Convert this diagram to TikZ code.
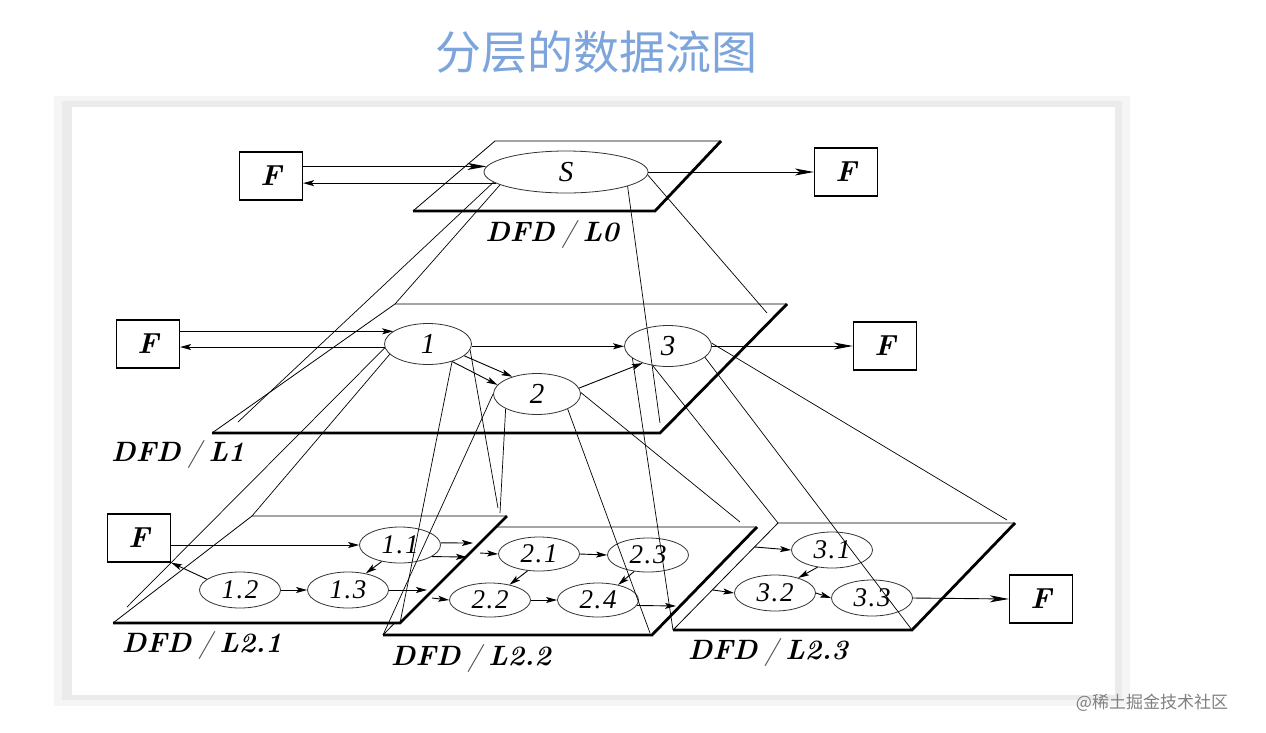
\documentclass[tikz,border=0pt]{standalone}
\usepackage{fontspec}
\usepackage{tikz}
\usetikzlibrary{arrows.meta,shapes.geometric}
\newfontfamily\cjk{Noto Sans CJK SC}
\newfontfamily\procfont[LetterSpace=6]{Liberation Serif}
\definecolor{titleblue}{RGB}{125,165,220}
\newcommand{\dfdslash}{\hspace{0.25em}{\mdseries\color{black!70}/}\hspace{0.25em}}
\newcommand{\dfdplane}[1]{%
  \fill[white] (#1bl) -- (#1br) -- (#1tr) -- (#1tl) -- cycle;
  \draw[thinedge] (#1bl) -- (#1tl) -- (#1tr);
  \draw[thickedge] (#1tr) -- (#1br) -- (#1bl);}

\begin{document}
\begin{tikzpicture}[x=1pt,y=-1pt,
  proc/.style={draw=black!80,line width=0.8pt,ellipse,inner sep=0pt,
    minimum width=81pt,minimum height=36pt,font=\procfont\fontsize{27}{28}\selectfont\itshape},
  bigproc/.style={proc,minimum width=87pt,minimum height=41pt,
    font=\procfont\fontsize{29}{30}\selectfont\itshape},
  ext/.style={draw,line width=1.2pt,minimum width=63pt,minimum height=48pt,
    inner sep=0pt,font=\fontsize{29}{30}\selectfont\bfseries\itshape},
  flow/.style={line width=0.9pt,-{Stealth[length=11pt,width=6pt,inset=2.5pt]}},
  longflow/.style={line width=0.9pt,-{Stealth[length=19pt,width=7pt,inset=5pt]}},
  proj/.style={line width=0.7pt},
  lvl/.style={font=\fontsize{28}{30}\selectfont\bfseries\itshape},
  thinedge/.style={line width=0.8pt},
  thickedge/.style={line width=2.8pt,line join=miter}]
  \useasboundingbox (0,0) rectangle (1266,732);
  \fill[white] (0,0) rectangle (1266,732);
  \fill[black!4] (54,96) rectangle (1130,706);
  \fill[black!8] (62,101) rectangle (1122,700);
  \fill[white] (72,107) rectangle (1115,695);

  \node[font=\cjk\fontsize{46}{50}\selectfont,text=titleblue] (title) at (596,52) {分层的数据流图};

  % planes
  \coordinate (L0bl) at (413,211); \coordinate (L0br) at (655,211);
  \coordinate (L0tr) at (721,141); \coordinate (L0tl) at (495,141);
  \coordinate (L1bl) at (212,433); \coordinate (L1br) at (660,433);
  \coordinate (L1tr) at (787,304); \coordinate (L1tl) at (395,304);
  \coordinate (L21bl) at (113,623); \coordinate (L21br) at (400,623);
  \coordinate (L21tr) at (507,516); \coordinate (L21tl) at (252,516);
  \coordinate (L22bl) at (383,635); \coordinate (L22br) at (652,635);
  \coordinate (L22tr) at (757,527); \coordinate (L22tl) at (488,527);
  \coordinate (L23bl) at (673,630); \coordinate (L23br) at (912,630);
  \coordinate (L23tr) at (1015,523); \coordinate (L23tl) at (778,523);
  \dfdplane{L0}
  \dfdplane{L1}
  \dfdplane{L23}
  \dfdplane{L22}
  \dfdplane{L21}

  % DFD/L0
  \node[ext] (fa) at (271,176) {F};
  \node[bigproc,minimum width=164pt,minimum height=42pt] (s) at (566,172) {S};
  \node[ext] (fb) at (846,172) {F};
  \draw[longflow] (fa.east |- s.176) -- (s.176);
  \draw[flow] (s.189) -- (s.189 -| fa.east);
  \draw[longflow] (s.east) -- (fb.west);

  % DFD/L1
  \node[ext] (f1) at (148,344) {F};
  \node[bigproc] (p1) at (428,344) {1};
  \node[bigproc] (p2) at (537,394) {2};
  \node[bigproc] (p3) at (668,346) {3};
  \node[ext] (f3) at (885,346) {F};
  \draw[flow] (f1.east |- p1.160) -- (p1.160);
  \draw[flow] (p1.184) -- (p1.184 -| f1.east);
  \draw[flow] (p1.357) -- (p1.357 -| p3.west);
  \draw[flow] (p1.342) -- (p2.145);
  \draw[flow] (p1.324) -- (p2.167);
  \draw[flow] (p2.8) -- (p3.214);
  \draw[longflow] (p3.east) -- (f3.west);

  % DFD/L2.1
  \node[ext] (f21) at (139,538) {F};
  \node[proc] (p11) at (400,545) {1.1};
  \node[proc] (p12) at (240,590) {1.2};
  \node[proc] (p13) at (348,590) {1.3};
  \coordinate (o11a) at (473,543);
  \coordinate (o11b) at (467,557);
  \coordinate (o13) at (427,590);
  \draw[flow] (f21.east |- p11.west) -- (p11.west);
  \draw[flow] (p12.162) -- (f21.south east);
  \draw[flow] (p12.east) -- (p13.west);
  \draw[flow] (p11.222) -- (p13.43);
  \draw[flow] (p11.3) -- (o11a);
  \draw[flow] (p11.340) -- (o11b);
  \draw[flow] (p13.east) -- (o13);

  % DFD/L2.2
  \node[proc,minimum height=34pt] (p21) at (539,554) {2.1};
  \node[proc,minimum height=34pt] (p23) at (648,555) {2.3};
  \node[proc,minimum height=34pt] (p22) at (490,600) {2.2};
  \node[proc,minimum height=34pt] (p24) at (598,600) {2.4};
  \coordinate (i21) at (480,553);
  \coordinate (i22) at (432,598);
  \coordinate (o24) at (676,606);
  \draw[flow] (i21) -- (p21.west);
  \draw[flow] (i22) -- (p22.west);
  \draw[flow] (p21.east) -- (p23.west);
  \draw[flow] (p21.236) -- (p22.38);
  \draw[flow] (p23.230) -- (p24.37);
  \draw[flow] (p22.east) -- (p24.west);
  \draw[flow] (p24.352) -- (o24);

  % DFD/L2.3
  \node[proc] (p31) at (832,550) {3.1};
  \node[proc] (p32) at (775,593) {3.2};
  \node[proc] (p33) at (872,598) {3.3};
  \node[ext] (f23) at (1041,599) {F};
  \coordinate (i31) at (755,547);
  \coordinate (i32) at (713,590);
  \draw[flow] (i31) -- (p31.west);
  \draw[flow] (i32) -- (p32.west);
  \draw[flow] (p31.230) -- (p32.33);
  \draw[flow] (p32.east) -- (p33.west);
  \draw[longflow] (p33.east) -- (f23.west);

  % projections
  \coordinate (s-a) at (238,422);
  \coordinate (s-c) at (767,313);
  \coordinate (s-d) at (660,423);
  \coordinate (p1-a) at (127,607);
  \coordinate (p1-c) at (498,508);
  \coordinate (p2-b) at (500,513);
  \coordinate (p2-c) at (650,633);
  \coordinate (p2-d) at (740,522);
  \coordinate (p3-d) at (1007,520);
  \draw[proj] (s.188) -- (s-a);
  \draw[proj] (s.191) -- (L1tl);
  \draw[proj] (s.358) -- (s-c);
  \draw[proj] (s.347) -- (s-d);
  \draw[proj] (p1.185) -- (p1-a);
  \draw[proj] (p1.195) -- (L21tl);
  \draw[proj] (p1.352) -- (p1-c);
  \draw[proj] (p1.324) -- (L21br);
  \draw[proj] (p2.180) -- (L22bl);
  \draw[proj] (p2.205) -- (p2-b);
  \draw[proj] (p2.334) -- (p2-c);
  \draw[proj] (p2.2) -- (p2-d);
  \draw[proj] (p3.199) -- (L23bl);
  \draw[proj] (p3.232) -- (L23tl);
  \draw[proj] (p3.343) -- (L23br);
  \draw[proj] (p3.4) -- (p3-d);

  \node[lvl] (lab0) at (552,234) {DFD\dfdslash L0};
  \node[lvl] (lab1) at (178,454) {DFD\dfdslash L1};
  \node[lvl] (lab21) at (202,645) {DFD\dfdslash L2.1};
  \node[lvl] (lab22) at (471,658) {DFD\dfdslash L2.2};
  \node[lvl] (lab23) at (768,652) {DFD\dfdslash L2.3};

  \node[font=\cjk\fontsize{17}{20}\selectfont,text=black!50] (mark) at (1152,703) {@稀土掘金技术社区};
\end{tikzpicture}
\end{document}
